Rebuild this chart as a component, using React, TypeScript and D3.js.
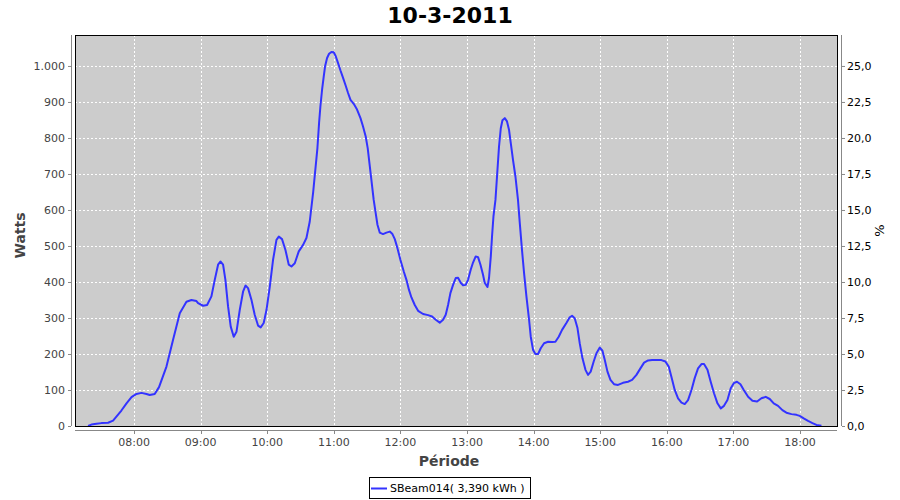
import React from "react";
import * as d3 from "d3";

const title = "10-3-2011";
const yLabel = "Watts";
const y2Label = "%";
const xLabel = "Période";
const seriesName = "SBeam014( 3,390 kWh )";

const times: string[] = [
  "07:18:36","07:21:36","07:26:06","07:30:36","07:36:36","07:41:06","07:44:06","07:48:36","07:53:12","07:57:42",
  "08:02:12","08:06:42","08:11:12","08:14:06","08:18:36","08:22:30","08:29:12","08:35:06","08:41:12","08:47:12",
  "08:51:42","08:56:12","08:57:42","09:02:12","09:05:48","09:09:42","09:12:42","09:15:42","09:17:48","09:20:12",
  "09:22:18","09:24:42","09:27:06","09:29:48","09:32:18","09:35:12","09:38:12","09:40:24","09:42:42","09:45:48",
  "09:48:42","09:51:42","09:54:06","09:56:48","09:59:18","10:02:18","10:05:12","10:08:18","10:10:24","10:13:18",
  "10:16:24","10:19:24","10:21:48","10:24:48","10:28:24","10:32:18","10:35:18","10:38:18","10:41:24","10:45:12",
  "10:46:42","10:47:54","10:49:24","10:50:54","10:52:06","10:53:54","10:55:42","10:57:48","10:59:54","11:01:42",
  "11:03:48","11:05:54","11:08:18","11:10:42","11:12:48","11:15:00","11:17:54","11:20:54","11:24:00","11:26:18",
  "11:28:42","11:30:30","11:33:12","11:35:54","11:37:42","11:39:18","11:41:24","11:44:18","11:47:24","11:50:24",
  "11:52:48","11:54:54","11:57:18","12:00:00","12:03:00","12:05:24","12:07:42","12:09:54","12:12:54","12:15:54",
  "12:20:24","12:24:54","12:28:30","12:31:48","12:35:24","12:38:24","12:40:48","12:42:54","12:45:00","12:47:24",
  "12:49:48","12:51:54","12:54:18","12:56:24","12:58:48","13:00:54","13:03:18","13:05:24","13:07:48","13:09:54",
  "13:12:06","13:14:24","13:15:54","13:18:24","13:19:48","13:21:24","13:22:30","13:23:48","13:25:36","13:27:00",
  "13:28:48","13:30:24","13:31:54","13:34:00","13:36:00","13:37:48","13:39:24","13:41:24","13:43:36","13:45:54",
  "13:47:30","13:49:30","13:51:24","13:53:30","13:55:54","13:57:24","13:59:30","14:01:36","14:04:00","14:06:24",
  "14:09:24","14:13:00","14:16:36","14:19:36","14:22:36","14:25:36","14:29:30","14:32:30","14:34:36","14:37:00",
  "14:39:30","14:41:30","14:44:00","14:46:42","14:49:00","14:51:24","14:54:06","14:56:36","14:59:36","15:02:00",
  "15:04:06","15:06:30","15:09:12","15:12:24","15:16:00","15:20:30","15:25:00","15:28:42","15:32:36","15:36:12",
  "15:39:30","15:43:06","15:46:42","15:50:36","15:55:06","15:58:42","16:01:42","16:04:06","16:07:06","16:10:06",
  "16:13:12","16:16:06","16:19:06","16:22:12","16:25:06","16:28:06","16:31:12","16:33:30","16:36:36","16:39:30",
  "16:42:30","16:45:36","16:48:36","16:51:30","16:54:36","16:57:36","17:00:18","17:03:12","17:06:18","17:09:18",
  "17:13:12","17:17:06","17:21:18","17:25:12","17:29:06","17:32:42","17:36:18","17:40:12","17:44:06","17:47:42",
  "17:52:18","17:56:48","17:59:42","18:03:18","18:07:12","18:11:12","18:14:48","18:19:18"
];

const watts: number[] = [
  0,4,6,8,9,15,26,43,63,80,
  89,92,89,86,89,108,165,239,313,345,
  350,347,341,334,336,360,406,448,457,448,
  406,332,276,248,262,322,373,390,383,350,
  309,279,274,286,322,387,461,517,526,519,
  489,448,443,452,485,503,522,568,650,772,
  842,888,934,971,999,1022,1034,1039,1038,1027,
  1008,988,967,945,925,906,895,879,855,832,
  804,772,700,628,591,559,537,533,537,540,
  533,519,494,461,429,406,378,357,336,320,
  311,308,304,295,287,295,309,336,369,392,
  411,412,398,391,392,406,434,454,471,469,
  448,420,398,386,411,471,526,582,628,693,
  776,827,849,855,846,823,786,739,693,628,
  564,489,424,360,295,248,211,200,200,216,
  230,234,233,234,248,267,286,302,306,299,
  272,230,188,156,142,151,179,202,218,209,
  183,151,128,116,114,120,123,128,142,160,
  176,182,183,183,183,179,165,137,100,77,
  65,61,72,100,133,160,172,172,156,123,
  91,63,49,56,72,105,119,123,116,100,
  81,70,68,77,81,75,63,56,44,37,
  33,31,28,21,14,8,3,1
];

const xDomain = ["07:06:48", "18:33:18"];
const xTickLabels = ["08:00","09:00","10:00","11:00","12:00","13:00","14:00","15:00","16:00","17:00","18:00"];
const yTicks = [0,100,200,300,400,500,600,700,800,900,1000];
const y2Ticks = [0,2.5,5,7.5,10,12.5,15,17.5,20,22.5,25];
const yMax = 1086;
const wattsPerPercent = 40;

const parse = d3.timeParse("%H:%M:%S");
const parseHM = d3.timeParse("%H:%M");

export default function App() {
  const W = 900, H = 500;
  const L = 75, R = 837, T = 35, B = 426;
  const x = d3.scaleTime().domain([parse(xDomain[0])!, parse(xDomain[1])!]).range([L, R]);
  const y = d3.scaleLinear().domain([0, yMax]).range([B, T]);
  const y2 = d3.scaleLinear().domain([0, yMax / wattsPerPercent]).range([B, T]);
  const data = times.map((t, i) => ({ t: parse(t)!, v: watts[i] }));
  const line = d3.line<{ t: Date; v: number }>().x(d => x(d.t)).y(d => y(d.v));
  const fmtL = (v: number) => d3.format(",")(v).replace(/,/g, ".");
  const fmtR = (v: number) => v.toFixed(1).replace(".", ",");
  const font = "'DejaVu Sans', sans-serif";
  const xt = xTickLabels.map(s => ({ s, px: x(parseHM(s)!) }));
  return (
    <svg width={W} height={H} style={{ position: "absolute", left: 0, top: 0, background: "#fff" }} fontFamily={font}>
      <text x={450} y={23} textAnchor="middle" fontSize={22} fontWeight="bold" fill="#000">{title}</text>
      <rect x={L} y={T} width={R - L} height={B - T} fill="#cccccc" />
      {yTicks.map(v => (
        <line key={"gy" + v} x1={L} x2={R} y1={y(v) + 0.5} y2={y(v) + 0.5} stroke="#fff" strokeDasharray="2,2" />
      ))}
      {xt.map(d => (
        <line key={"gx" + d.s} x1={Math.round(d.px) + 0.5} x2={Math.round(d.px) + 0.5} y1={T} y2={B} stroke="#fff" strokeDasharray="2,2" />
      ))}
      <defs>
        <clipPath id="clip"><rect x={L} y={T} width={R - L} height={B - T} /></clipPath>
      </defs>
      <path d={line(data)!} fill="none" stroke="#3333ff" strokeWidth={2} clipPath="url(#clip)" strokeLinejoin="round" />
      <rect x={L + 0.5} y={T + 0.5} width={R - L} height={B - T} fill="none" stroke="#000" strokeWidth={1} />
      {/* left axis */}
      <line x1={71.5} x2={71.5} y1={T} y2={B} stroke="#888" />
      {yTicks.map(v => (
        <g key={"ly" + v}>
          <line x1={68} x2={71} y1={y(v) + 0.5} y2={y(v) + 0.5} stroke="#888" />
          <text x={65} y={y(v) + 4} textAnchor="end" fontSize={11} fill="#444">{fmtL(v)}</text>
        </g>
      ))}
      {/* right axis */}
      <line x1={841.5} x2={841.5} y1={T} y2={B} stroke="#888" />
      {y2Ticks.map(v => (
        <g key={"ry" + v}>
          <line x1={842} x2={845} y1={y2(v) + 0.5} y2={y2(v) + 0.5} stroke="#888" />
          <text x={847} y={y2(v) + 4} textAnchor="start" fontSize={11} fill="#000">{fmtR(v)}</text>
        </g>
      ))}
      {/* bottom axis */}
      <line x1={L} x2={R} y1={430.5} y2={430.5} stroke="#888" />
      {xt.map(d => (
        <g key={"bx" + d.s}>
          <line x1={Math.round(d.px) + 0.5} x2={Math.round(d.px) + 0.5} y1={431} y2={434} stroke="#888" />
          <text x={d.px} y={446} textAnchor="middle" fontSize={11} fill="#444">{d.s}</text>
        </g>
      ))}
      <text x={449} y={466} textAnchor="middle" fontSize={14} fontWeight="bold" fill="#444">{xLabel}</text>
      <text transform={`translate(25,${(T + B) / 2 + 5}) rotate(-90)`} textAnchor="middle" fontSize={14} fontWeight="bold" fill="#444">{yLabel}</text>
      <text transform={`translate(884,${(T + B) / 2}) rotate(-90)`} textAnchor="middle" fontSize={13} fill="#000">{y2Label}</text>
      {/* legend */}
      <rect x={369.5} y={477.5} width={161} height={21} fill="#fff" stroke="#000" />
      <line x1={371} x2={387} y1={488.5} y2={488.5} stroke="#3333ff" strokeWidth={2} />
      <text x={390} y={492} fontSize={11} fill="#000">{seriesName}</text>
    </svg>
  );
}
